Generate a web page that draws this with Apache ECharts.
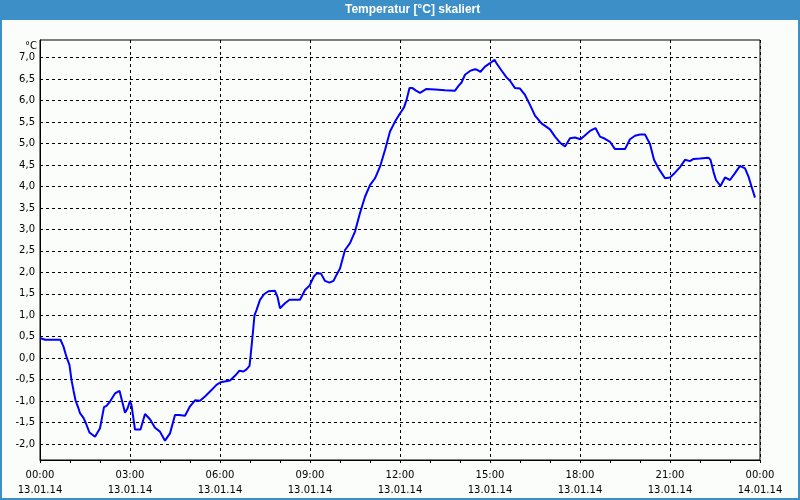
<!DOCTYPE html>
<html>
<head>
<meta charset="utf-8">
<script src="https://cdn.jsdelivr.net/npm/echarts@6/dist/echarts.min.js"></script>
<style>html,body{margin:0;padding:0;background:#fbfdfb}#c{width:800px;height:500px}</style>
</head>
<body>
<div id="c"></div>
<script>
// minutes since 13.01.14 00:00
const minutes = [0,10,41,47,53,59,63,67,71,77,80,87,92,99,110,120,128,133,140,150,159,161,170,175,180,183,190,201,210,220,230,240,250,260,270,278,290,300,310,320,330,343,353,361,380,390,399,407,413,419,421,425,429,433,440,448,457,470,475,480,490,499,520,530,539,548,553,562,570,579,587,593,600,610,620,630,640,650,660,670,680,690,700,710,720,728,733,739,745,752,760,773,790,810,830,837,843,850,860,870,875,881,890,900,909,913,923,933,940,950,960,970,980,990,1003,1020,1030,1040,1050,1060,1070,1081,1092,1101,1111,1120,1130,1140,1150,1170,1180,1190,1200,1210,1220,1228,1237,1250,1260,1270,1280,1290,1300,1307,1320,1337,1341,1347,1352,1361,1370,1380,1390,1400,1410,1417,1423,1430];
const temps = [0.47,0.43,0.43,0.27,0.03,-0.16,-0.51,-0.75,-0.98,-1.17,-1.28,-1.39,-1.52,-1.73,-1.83,-1.63,-1.14,-1.11,-1.01,-0.82,-0.76,-0.78,-1.27,-1.17,-1.00,-1.09,-1.66,-1.66,-1.30,-1.42,-1.62,-1.71,-1.92,-1.75,-1.32,-1.32,-1.34,-1.12,-0.98,-0.99,-0.89,-0.74,-0.62,-0.56,-0.52,-0.41,-0.29,-0.31,-0.26,-0.18,0.03,0.50,1.00,1.12,1.36,1.49,1.56,1.57,1.43,1.16,1.28,1.36,1.36,1.59,1.69,1.91,1.97,1.97,1.80,1.76,1.80,1.94,2.09,2.52,2.68,2.95,3.38,3.76,4.03,4.19,4.46,4.85,5.28,5.51,5.70,5.84,6.01,6.29,6.29,6.23,6.18,6.27,6.26,6.24,6.23,6.34,6.42,6.60,6.69,6.73,6.71,6.67,6.79,6.87,6.95,6.87,6.70,6.54,6.46,6.29,6.28,6.13,5.90,5.65,5.47,5.33,5.16,5.02,4.93,5.12,5.14,5.10,5.21,5.30,5.36,5.16,5.11,5.04,4.87,4.87,5.10,5.18,5.21,5.21,4.99,4.62,4.42,4.19,4.21,4.32,4.45,4.62,4.59,4.64,4.65,4.67,4.62,4.34,4.15,4.01,4.21,4.15,4.31,4.48,4.42,4.23,4.00,3.74];
const yTicks = [-2.0,-1.5,-1.0,-0.5,0.0,0.5,1.0,1.5,2.0,2.5,3.0,3.5,4.0,4.5,5.0,5.5,6.0,6.5,7.0];
const timeLabels = ['00:00','03:00','06:00','09:00','12:00','15:00','18:00','21:00','00:00'];
const dateLabels = ['13.01.14','13.01.14','13.01.14','13.01.14','13.01.14','13.01.14','13.01.14','13.01.14','14.01.14'];

const chart = echarts.init(document.getElementById('c'), null, {renderer:'canvas'});
const blue = '#3c8fc7';
const font = 'DejaVu Sans';
chart.setOption({
  animation: false,
  backgroundColor: '#fbfdfb',
  title: {
    text: 'Temperatur [°C] skaliert',
    left: 345, top: 3, padding: 0,
    textStyle: {color:'#ffffff', fontFamily:'Liberation Sans', fontWeight:'bold', fontSize:12, lineHeight:14}
  },
  graphic: [
    {type:'rect', z:-1, shape:{x:0,y:0,width:800,height:20}, style:{fill:blue}, silent:true},
    {type:'rect', z:100, shape:{x:1,y:0,width:798,height:499}, style:{fill:'none', stroke:blue, lineWidth:2}, silent:true}
  ],
  grid: {left:40, right:40, top:40, bottom:40, show:true, borderColor:'#000', borderWidth:1, backgroundColor:'transparent'},
  xAxis: {
    type:'value', min:0, max:1440, interval:180,
    axisLine:{show:true, onZero:false, lineStyle:{color:'#000', width:1}},
    axisTick:{show:true, length:3, lineStyle:{color:'#000'}},
    minorTick:{show:true, splitNumber:3, length:3, lineStyle:{color:'#000'}},
    splitLine:{show:true, lineStyle:{color:'#000', type:[3,3], width:1}},
    axisLabel:{
      margin:8, color:'#000', fontFamily:font, fontSize:10, lineHeight:15,
      formatter: v => { const i = Math.round(v/180); return timeLabels[i] + '\n' + dateLabels[i]; }
    }
  },
  yAxis: {
    type:'value', min:-2.37, max:7.41,
    name:'°C', nameLocation:'end', nameGap:-6,
    nameTextStyle:{color:'#000', fontFamily:font, fontSize:10, align:'right', verticalAlign:'middle', padding:[0,3,0,0]},
    axisLine:{show:true, onZero:false, lineStyle:{color:'#000', width:1}},
    axisTick:{show:false, customValues: yTicks},
    splitLine:{show:true, lineStyle:{color:'#000', type:[3,3], width:1}},
    axisLabel:{
      customValues: yTicks, margin:5, color:'#000', fontFamily:font, fontSize:10,
      formatter: v => v.toFixed(1).replace('.', ',')
    }
  },
  series: [{
    type:'line', symbol:'none',
    data: minutes.map((m,i)=>[m, temps[i]]),
    lineStyle:{color:'#0000ff', width:2},
    clip:true
  }]
});
</script>
</body>
</html>
